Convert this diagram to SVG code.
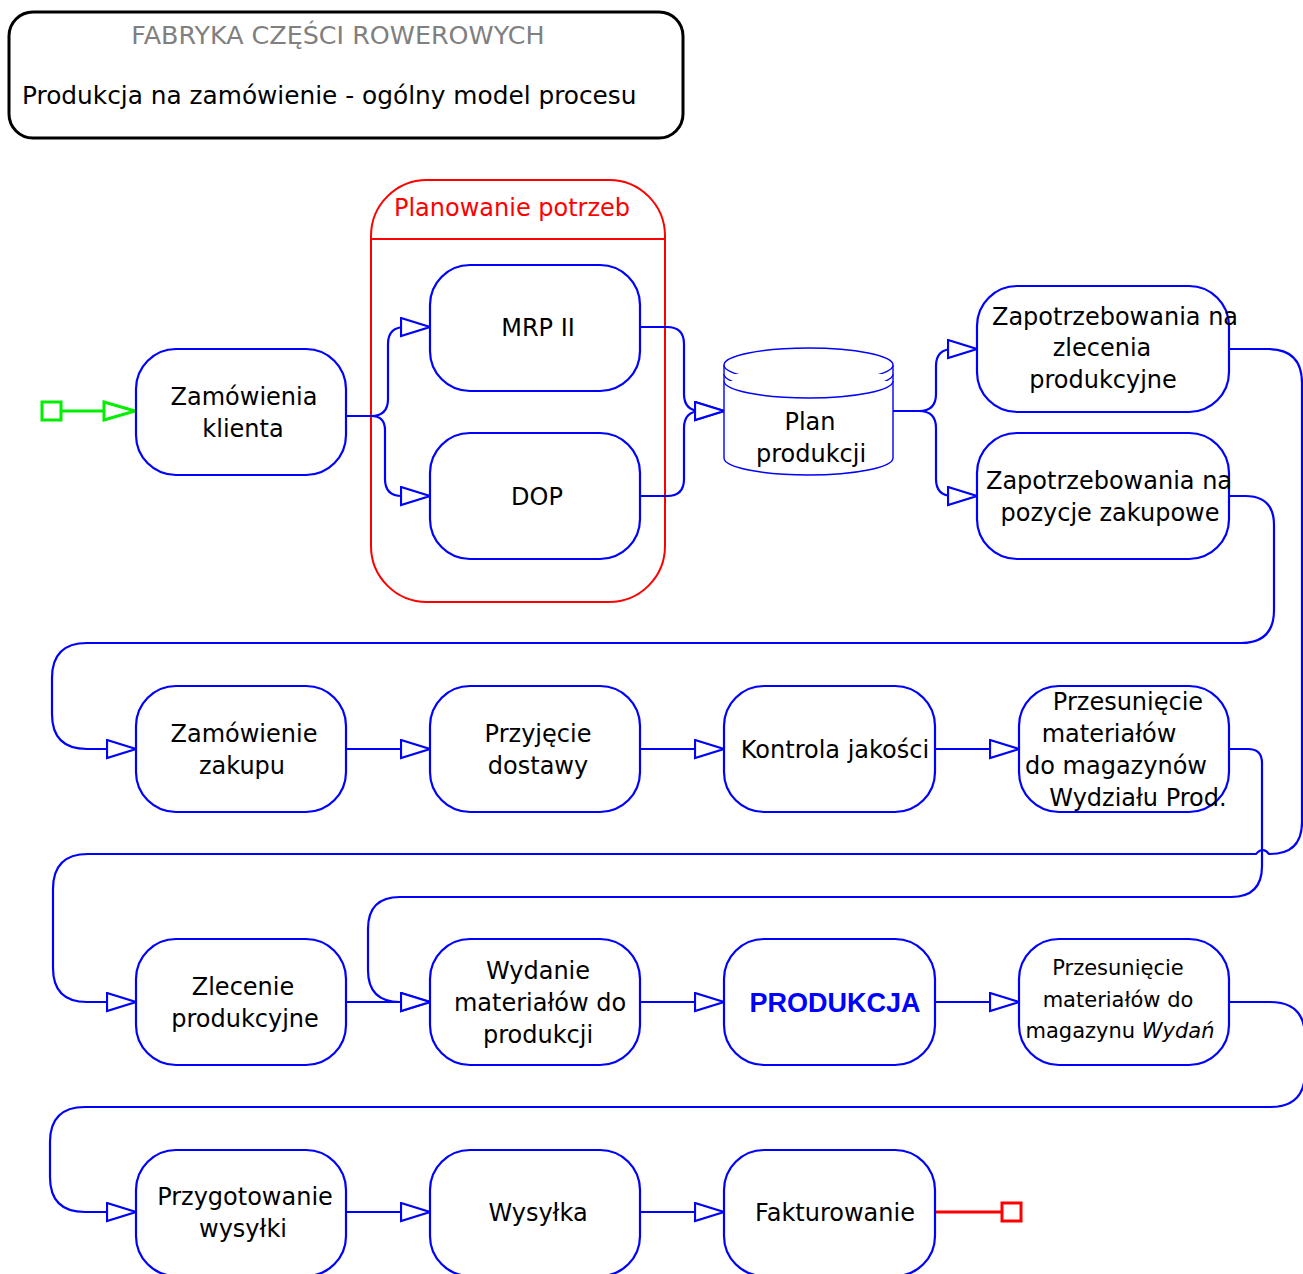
<svg xmlns="http://www.w3.org/2000/svg" width="1303" height="1274" viewBox="0 0 1303 1274">
<style>
.bg{fill:#fff}
.node{fill:#fff;stroke:#0000ff;stroke-width:2.2}
.cyl{fill:#fff;stroke:#0000ff;stroke-width:1.4}
.conn{fill:none;stroke:#0000ff;stroke-width:2.2}
.t{font-family:"DejaVu Sans","Verdana",sans-serif;font-size:24px;fill:#000;text-anchor:middle}
.ts{font-family:"DejaVu Sans","Verdana",sans-serif;font-size:21px;fill:#000;text-anchor:middle}
</style>
<defs>
<marker id="ah" markerUnits="userSpaceOnUse" markerWidth="34" markerHeight="24" refX="30" refY="10" orient="auto" viewBox="0 0 34 24">
<path d="M1,1 L30,10 L1,19 Z" fill="#fff" stroke="#0000ff" stroke-width="2.2"/>
</marker>
</defs>
<rect class="bg" x="0" y="0" width="1303" height="1274"/>

<g id="title">
<rect x="9" y="12" width="674" height="126" rx="24" fill="#fff" stroke="#000" stroke-width="3"/>
<text x="338" y="44" font-family="DejaVu Sans, sans-serif" font-size="25.4" fill="#808080" text-anchor="middle">FABRYKA CZĘŚCI ROWEROWYCH</text>
<text x="22" y="104" font-family="DejaVu Sans, sans-serif" font-size="24.8" fill="#000">Produkcja na zamówienie - ogólny model procesu</text>
</g>

<g id="group-planowanie">
<rect x="371" y="180" width="294" height="422" rx="56" fill="none" stroke="#ff0000" stroke-width="2"/>
<line x1="371" y1="239" x2="665" y2="239" stroke="#ff0000" stroke-width="2"/>
<text x="512" y="216" font-family="DejaVu Sans, sans-serif" font-size="24" fill="#ff0000" text-anchor="middle">Planowanie potrzeb</text>
</g>

<g id="connectors">
<path class="conn" d="M346,416 H371 Q388,416 388,399 V344 Q388,327 405,327 H430" marker-end="url(#ah)"/>
<path class="conn" d="M346,416 H371 Q385,416 385,430 V479 Q385,496 402,496 H430" marker-end="url(#ah)"/>
<path class="conn" d="M640,327 H667 Q684,327 684,344 V394 Q684,411 701,411 H724" marker-end="url(#ah)"/>
<path class="conn" d="M640,496 H667 Q684,496 684,479 V428 Q684,411 701,411 H724" marker-end="url(#ah)"/>
<path class="conn" d="M893,411 H919 Q936,411 936,394 V366 Q936,349 953,349 H977" marker-end="url(#ah)"/>
<path class="conn" d="M893,411 H919 Q936,411 936,428 V479 Q936,496 953,496 H977" marker-end="url(#ah)"/>
<path class="conn" d="M1229,349 H1268 Q1302,349 1302,383 V822 Q1302,854 1270,854 H1269 Q1263,846 1256,854 H88 Q53,854 53,889 V968 Q53,1002 87,1002 H136" marker-end="url(#ah)"/>
<path class="conn" d="M1229,496 H1245 Q1274,496 1274,525 V610 Q1274,643 1241,643 H87 Q52,643 52,678 V714 Q52,749 87,749 H136" marker-end="url(#ah)"/>
<path class="conn" d="M346,749 H430" marker-end="url(#ah)"/>
<path class="conn" d="M640,749 H724" marker-end="url(#ah)"/>
<path class="conn" d="M935,749 H1019" marker-end="url(#ah)"/>
<path class="conn" d="M1229,749 H1248 Q1262,749 1262,763 V866 Q1262,897 1231,897 H400 Q368,897 368,929 V970 Q368,1002 400,1002 H430" marker-end="url(#ah)"/>
<path class="conn" d="M346,1002 H430" marker-end="url(#ah)"/>
<path class="conn" d="M640,1002 H724" marker-end="url(#ah)"/>
<path class="conn" d="M935,1002 H1019" marker-end="url(#ah)"/>
<path class="conn" d="M1229,1002 H1270 Q1305,1002 1305,1037 V1072 Q1305,1107 1270,1107 H85 Q50,1107 50,1142 V1177 Q50,1212 85,1212 H136" marker-end="url(#ah)"/>
<path class="conn" d="M346,1212 H430" marker-end="url(#ah)"/>
<path class="conn" d="M640,1212 H724" marker-end="url(#ah)"/>
</g>

<g id="start">
<rect x="42" y="402" width="19" height="18" fill="#fff" stroke="#00ee00" stroke-width="3"/>
<line x1="61" y1="411" x2="104" y2="411" stroke="#00ee00" stroke-width="3"/>
<path d="M104,402 L135,411 L104,420 Z" fill="#fff" stroke="#00ee00" stroke-width="3"/>
</g>

<g id="end">
<line x1="935" y1="1212" x2="1002" y2="1212" stroke="#ff0000" stroke-width="3"/>
<rect x="1002" y="1203" width="19" height="18" fill="#fff" stroke="#ff0000" stroke-width="3"/>
</g>

<g id="n-zamowienia-klienta">
<rect class="node" x="136" y="349" width="210" height="126" rx="40"/>
<text class="t" x="244" y="405">Zamówienia</text>
<text class="t" x="243" y="437">klienta</text>
</g>
<g id="n-mrp">
<rect class="node" x="430" y="265" width="210" height="126" rx="40"/>
<text class="t" x="538" y="336">MRP II</text>
</g>
<g id="n-dop">
<rect class="node" x="430" y="433" width="210" height="126" rx="40"/>
<text class="t" x="537" y="505">DOP</text>
</g>
<g id="n-plan">
<path class="cyl" d="M724,365 V458 A84.5,17 0 0 0 893,458 V365"/>
<ellipse class="cyl" cx="808.5" cy="365" rx="84.5" ry="17"/>
<path class="cyl" d="M724,374 A84.5,17 0 0 0 893,374" fill="none"/>
<path class="cyl" d="M724,381 A84.5,17 0 0 0 893,381" fill="none"/>
<text class="t" x="810" y="430">Plan</text>
<text class="t" x="811" y="462">produkcji</text>
</g>
<g id="n-zap1">
<rect class="node" x="977" y="286" width="252" height="126" rx="40"/>
<text class="t" x="1115" y="325">Zapotrzebowania na</text>
<text class="t" x="1102" y="356">zlecenia</text>
<text class="t" x="1103" y="388">produkcyjne</text>
</g>
<g id="n-zap2">
<rect class="node" x="977" y="433" width="252" height="126" rx="40"/>
<text class="t" x="1109" y="489">Zapotrzebowania na</text>
<text class="t" x="1110" y="521">pozycje zakupowe</text>
</g>
<g id="n-zamowienie-zakupu">
<rect class="node" x="136" y="686" width="210" height="126" rx="40"/>
<text class="t" x="244" y="742">Zamówienie</text>
<text class="t" x="242" y="774">zakupu</text>
</g>
<g id="n-przyjecie">
<rect class="node" x="430" y="686" width="210" height="126" rx="40"/>
<text class="t" x="538" y="742">Przyjęcie</text>
<text class="t" x="538" y="774">dostawy</text>
</g>
<g id="n-kontrola">
<rect class="node" x="724" y="686" width="211" height="126" rx="40"/>
<text class="t" x="835" y="758">Kontrola jakości</text>
</g>
<g id="n-przesuniecie-prod">
<rect class="node" x="1019" y="686" width="210" height="126" rx="40"/>
<text class="t" x="1128" y="710">Przesunięcie</text>
<text class="t" x="1109" y="742">materiałów</text>
<text class="t" x="1116" y="774">do magazynów</text>
<text class="t" x="1138" y="806">Wydziału Prod.</text>
</g>
<g id="n-zlecenie">
<rect class="node" x="136" y="939" width="210" height="126" rx="40"/>
<text class="t" x="243" y="995">Zlecenie</text>
<text class="t" x="245" y="1027">produkcyjne</text>
</g>
<g id="n-wydanie">
<rect class="node" x="430" y="939" width="210" height="126" rx="40"/>
<text class="t" x="538" y="979">Wydanie</text>
<text class="t" x="540" y="1011">materiałów do</text>
<text class="t" x="538" y="1043">produkcji</text>
</g>
<g id="n-produkcja">
<rect class="node" x="724" y="939" width="211" height="126" rx="40"/>
<text x="835" y="1012" font-family="Liberation Sans, Arial, sans-serif" font-size="27" font-weight="bold" fill="#0000ff" text-anchor="middle">PRODUKCJA</text>
</g>
<g id="n-przesuniecie-wydan">
<rect class="node" x="1019" y="939" width="210" height="126" rx="40"/>
<text class="ts" x="1118" y="975">Przesunięcie</text>
<text class="ts" x="1118" y="1007">materiałów do</text>
<text class="ts" x="1120" y="1038">magazynu <tspan font-style="italic">Wydań</tspan></text>
</g>
<g id="n-przygotowanie">
<rect class="node" x="136" y="1150" width="210" height="126" rx="40"/>
<text class="t" x="245" y="1205">Przygotowanie</text>
<text class="t" x="243" y="1237">wysyłki</text>
</g>
<g id="n-wysylka">
<rect class="node" x="430" y="1150" width="210" height="126" rx="40"/>
<text class="t" x="538" y="1221">Wysyłka</text>
</g>
<g id="n-fakturowanie">
<rect class="node" x="724" y="1150" width="211" height="126" rx="40"/>
<text class="t" x="835" y="1221">Fakturowanie</text>
</g>
</svg>
